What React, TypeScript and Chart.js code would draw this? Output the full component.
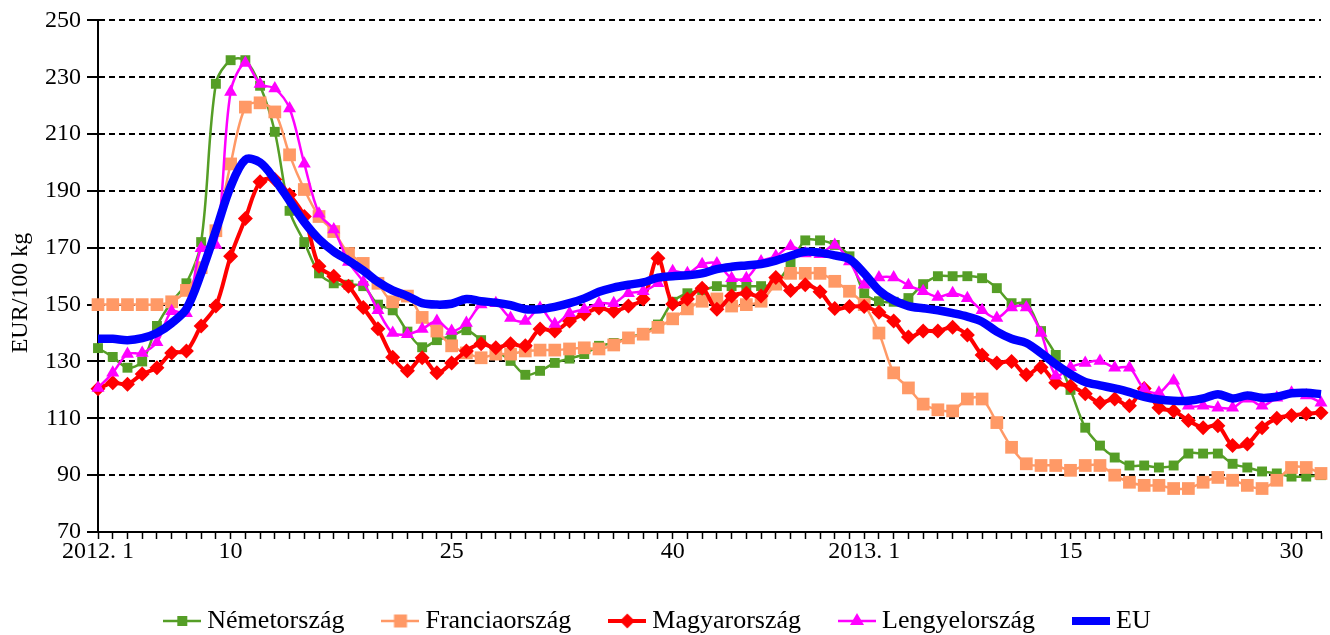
import React, { useEffect, useRef } from "react";
import { Chart, registerables } from "chart.js";

Chart.register(...registerables);

const categories = [
  "2012. 1", "2012. 2", "2012. 3", "2012. 4", "2012. 5", "2012. 6", "2012. 7", "2012. 8", "2012. 9", "2012. 10",
  "2012. 11", "2012. 12", "2012. 13", "2012. 14", "2012. 15", "2012. 16", "2012. 17", "2012. 18", "2012. 19", "2012. 20",
  "2012. 21", "2012. 22", "2012. 23", "2012. 24", "2012. 25", "2012. 26", "2012. 27", "2012. 28", "2012. 29", "2012. 30",
  "2012. 31", "2012. 32", "2012. 33", "2012. 34", "2012. 35", "2012. 36", "2012. 37", "2012. 38", "2012. 39", "2012. 40",
  "2012. 41", "2012. 42", "2012. 43", "2012. 44", "2012. 45", "2012. 46", "2012. 47", "2012. 48", "2012. 49", "2012. 50",
  "2012. 51", "2012. 52",
  "2013. 1", "2013. 2", "2013. 3", "2013. 4", "2013. 5", "2013. 6", "2013. 7", "2013. 8", "2013. 9", "2013. 10",
  "2013. 11", "2013. 12", "2013. 13", "2013. 14", "2013. 15", "2013. 16", "2013. 17", "2013. 18", "2013. 19", "2013. 20",
  "2013. 21", "2013. 22", "2013. 23", "2013. 24", "2013. 25", "2013. 26", "2013. 27", "2013. 28", "2013. 29", "2013. 30",
  "2013. 31", "2013. 32",
];

const xTickText: Record<string, string> = {
  "2012. 1": "2012. 1",
  "2012. 10": "10",
  "2012. 25": "25",
  "2012. 40": "40",
  "2013. 1": "2013. 1",
  "2013. 15": "15",
  "2013. 30": "30",
};

const yMin = 70;
const yMax = 250;
const yStep = 20;
const yTitle = "EUR/100 kg";

const seriesNames = ["Németország", "Franciaország", "Magyarország", "Lengyelország", "EU"];

const nemetorszag = [
  134.7, 131.6, 127.8, 130, 142.5, 151, 157.5, 172, 227.7, 236,
  236, 227, 210.8, 183, 172, 161, 157.5, 157, 156.5, 150,
  148, 140.5, 135, 137.5, 139, 141, 137.5, 134, 130.2, 125.3,
  126.7, 129.5, 131, 132.6, 135.5, 136.5, 138.4, 140, 143, 151,
  154, 155, 156.5, 156.5, 156.5, 156.5, 157.5, 164.5, 172.6, 172.6,
  171, 167,
  154, 151.2, 151, 152.3, 157.2, 160, 160, 160, 159.3, 155.8,
  150.5, 150.5, 140.7, 132.3, 120, 106.7, 100.4, 96.2, 93.4, 93.4,
  92.7, 93.4, 97.6, 97.6, 97.6, 94, 92.7, 91.3, 90.6, 89.5,
  89.5, 90,
];

const franciaorszag = [
  150, 150, 150, 150, 150, 151, 155, 163, 176, 199.5,
  219.5, 221, 217.8, 202.7, 190.5, 181, 175.7, 168, 164.5, 157.5,
  151, 153, 145.5, 140.7, 135.5, 133, 131.3, 132.6, 132.6, 133.7,
  134, 134, 134.4, 134.8, 134.4, 135.8, 138.3, 139.6, 142, 145,
  148.5, 151.2, 152, 149.5, 150, 151.2, 157.2, 161, 161, 161,
  158.2, 154.7,
  150, 140, 126, 120.7, 115, 113, 112.6, 116.8, 116.8, 108.5,
  99.8, 94, 93.4, 93.4, 91.7, 93.4, 93.4, 90, 87.5, 86.4,
  86.4, 85.3, 85.3, 87.5, 89.2, 88.2, 86.4, 85.3, 88.2, 92.7,
  92.7, 90.6,
];

const magyarorszag = [
  120.4, 122.5, 122, 125.6, 127.8, 133, 133.7, 142.5, 149.5, 167,
  180.3, 193.2, 194, 188.7, 181, 163.5, 160, 156.5, 149, 141.5,
  131.5, 126.7, 131.3, 126, 129.5, 133.7, 136.2, 134.8, 136.2, 135.5,
  141.4, 140.7, 144.2, 146.7, 148.8, 147.7, 149.5, 152, 166.3, 150.2,
  152, 155.8, 148.4, 153, 154, 153, 159.5, 155, 157, 154.5,
  148.6, 149.3,
  149.3, 147.3, 144.2, 138.6, 140.7, 140.7, 142, 139.3, 132.3, 129.5,
  130, 125.3, 128, 122.5, 121.4, 118.6, 115.5, 116.8, 114.4, 120.5,
  113.7, 112.6, 109.2, 106.7, 107.4, 100.4, 101, 106.7, 110, 111,
  111.6, 112,
];

const lengyelorszag = [
  120.7, 126, 132.6, 133, 136.8, 147.7, 147, 169.8, 171, 224.8,
  235, 227.6, 226, 219, 199.6, 182, 176.4, 165, 158, 148,
  140, 139.6, 141.4, 144.2, 140.7, 143.5, 150, 150.5, 145.3, 144.2,
  148.8, 143.2, 147, 148.4, 150.5, 150.5, 154, 154.7, 157.5, 161.7,
  161, 164.2, 164.5, 159.3, 159.3, 165.2, 167, 170.5, 168, 167.7,
  171, 165.2,
  157, 159.5, 159.5, 156.8, 154.7, 152.7, 154, 152.2, 148, 145.3,
  149, 149, 140, 125, 128, 129.5, 130.2, 127.8, 127.8, 120.4,
  119, 123.2, 114.4, 114.4, 113.7, 113.7, 116.9, 114.4, 117.2, 119,
  118, 115.5,
];

const eu = [
  138, 138, 137.5, 138.2, 140, 143.5, 148.5, 161, 176, 191.5,
  201, 200, 194, 186.5, 179, 173, 168.7, 165.5, 162, 158,
  155, 153, 150.5, 150, 150.3, 152, 151.2, 150.7, 149.8, 148.4,
  148.4, 149.2, 150.5, 152.2, 154.5, 156, 157, 157.8, 159.5, 160,
  160.3, 161, 162.5, 163.3, 163.8, 164.3, 165.5, 167.2, 168.6, 168.3,
  167.3, 166,
  161, 155, 151.5, 149.5, 148.7, 148, 147, 145.8, 144, 140.5,
  138, 136.5, 133, 129, 125.5, 122.8, 121.6, 120.5, 119.2, 117.5,
  116.6, 116.2, 116.2, 117, 118.5, 117, 118, 117.2, 117.6, 118.8,
  119, 118.5,
];

const GREEN = "#559E26";
const ORANGE = "#FF9966";
const RED = "#FF0000";
const MAGENTA = "#FF00FF";
const BLUE = "#0000FF";
const FONT = "'Liberation Serif', 'Times New Roman', serif";

function makeIcon(color: string, lineWidth: number, marker: string, size: number) {
  const c = document.createElement("canvas");
  c.width = 38;
  c.height = 22;
  const ctx = c.getContext("2d")!;
  const cx = 19;
  const cy = 11;
  ctx.strokeStyle = color;
  ctx.lineWidth = lineWidth;
  ctx.beginPath();
  ctx.moveTo(0, cy);
  ctx.lineTo(38, cy);
  ctx.stroke();
  ctx.fillStyle = color;
  if (marker === "rect") {
    ctx.fillRect(cx - size / 2, cy - size / 2, size, size);
  } else if (marker === "rectRot") {
    ctx.beginPath();
    ctx.moveTo(cx, cy - size / 2);
    ctx.lineTo(cx + size / 2, cy);
    ctx.lineTo(cx, cy + size / 2);
    ctx.lineTo(cx - size / 2, cy);
    ctx.closePath();
    ctx.fill();
  } else if (marker === "triangle") {
    const h = size * 0.87;
    ctx.beginPath();
    ctx.moveTo(cx, cy - (h * 2) / 3);
    ctx.lineTo(cx + size / 2, cy + h / 3);
    ctx.lineTo(cx - size / 2, cy + h / 3);
    ctx.closePath();
    ctx.fill();
  }
  return c;
}

const yTitlePlugin = {
  id: "yTitleText",
  afterDraw(chart: any) {
    const ctx = chart.ctx as CanvasRenderingContext2D;
    ctx.save();
    ctx.translate(21, 293);
    ctx.rotate(-Math.PI / 2);
    ctx.font = `24px ${FONT}`;
    ctx.fillStyle = "#000";
    ctx.textAlign = "center";
    ctx.textBaseline = "middle";
    ctx.fillText(yTitle, 0, 0);
    ctx.restore();
  },
};

export default function App() {
  const ref = useRef<HTMLCanvasElement>(null);

  useEffect(() => {
    const canvas = ref.current;
    if (!canvas) return;
    const icons = [
      makeIcon(GREEN, 2.5, "rect", 10),
      makeIcon(ORANGE, 2.5, "rect", 13),
      makeIcon(RED, 4, "rectRot", 15),
      makeIcon(MAGENTA, 2.5, "triangle", 14),
      makeIcon(BLUE, 8, "none", 0),
    ];
    const common = { fill: false, clip: false as any, tension: 0.33, pointBorderWidth: 0 };
    const chart = new Chart(canvas, {
      type: "line",
      data: {
        labels: categories,
        datasets: [
          {
            ...common,
            label: seriesNames[0],
            data: nemetorszag,
            borderColor: GREEN,
            backgroundColor: GREEN,
            pointBackgroundColor: GREEN,
            pointBorderColor: GREEN,
            borderWidth: 2.5,
            pointStyle: "rect",
            pointRadius: 7,
            order: 4,
          },
          {
            ...common,
            label: seriesNames[1],
            data: franciaorszag,
            borderColor: ORANGE,
            backgroundColor: ORANGE,
            pointBackgroundColor: ORANGE,
            pointBorderColor: ORANGE,
            borderWidth: 2.5,
            pointStyle: "rect",
            pointRadius: 9,
            order: 3,
          },
          {
            ...common,
            label: seriesNames[2],
            data: magyarorszag,
            borderColor: RED,
            backgroundColor: RED,
            pointBackgroundColor: RED,
            pointBorderColor: RED,
            borderWidth: 4,
            pointStyle: "rectRot",
            pointRadius: 7.5,
            order: 2,
          },
          {
            ...common,
            label: seriesNames[3],
            data: lengyelorszag,
            borderColor: MAGENTA,
            backgroundColor: MAGENTA,
            pointBackgroundColor: MAGENTA,
            pointBorderColor: MAGENTA,
            borderWidth: 2.5,
            pointStyle: "triangle",
            pointRadius: 7.5,
            order: 1,
          },
          {
            ...common,
            label: seriesNames[4],
            data: eu,
            borderColor: BLUE,
            backgroundColor: BLUE,
            borderWidth: 8.5,
            pointRadius: 0,
            order: 0,
          },
        ],
      },
      options: {
        responsive: false,
        animation: false,
        devicePixelRatio: 1,
        events: [],
        layout: { padding: { top: 18, right: 9, bottom: -9, left: 0 } },
        scales: {
          x: {
            type: "category",
            offset: false,
            afterFit: (scale: any) => {
              scale.height = 32;
            },
            grid: {
              offset: false,
              drawOnChartArea: false,
              drawTicks: true,
              tickLength: 7,
              tickColor: "#000",
              tickWidth: 1.5,
            },
            border: { display: true, color: "#000", width: 2 },
            ticks: {
              autoSkip: false,
              maxRotation: 0,
              minRotation: 0,
              padding: 1,
              color: "#000",
              font: { family: FONT, size: 24, lineHeight: 1 },
              callback: function (_v: any, idx: number) {
                const key = categories[idx];
                return xTickText[key] ?? "";
              },
            },
          },
          y: {
            min: yMin,
            max: yMax,
            afterFit: (scale: any) => {
              scale.width = 98;
            },
            ticks: {
              stepSize: yStep,
              padding: 6,
              color: "#000",
              font: { family: FONT, size: 24 },
            },
            grid: {
              color: "#000",
              lineWidth: 2,
              drawTicks: true,
              tickLength: 11,
              tickColor: "#000",
              tickWidth: 2,
              tickBorderDash: [],
            },
            border: { display: true, color: "#000", width: 2, dash: [6, 4] },
            title: { display: false },
          },
        },
        plugins: {
          tooltip: { enabled: false },
          legend: {
            position: "bottom",
            align: "center",
            labels: {
              usePointStyle: true,
              pointStyleWidth: 24,
              padding: 44,
              color: "#000",
              font: { family: FONT, size: 26 },
              sort: (a: any, b: any) => a.datasetIndex - b.datasetIndex,
              generateLabels: (ch: any) => {
                const items = (Chart.defaults.plugins.legend.labels as any).generateLabels(ch);
                items.forEach((it: any) => {
                  it.pointStyle = icons[it.datasetIndex];
                  it.fontColor = "#000";
                });
                return items;
              },
            },
          },
        },
      } as any,
      plugins: [yTitlePlugin],
    });
    return () => chart.destroy();
  }, []);

  return (
    <div style={{ position: "fixed", left: 0, top: 0, width: 1330, height: 635, background: "#fff" }}>
      <canvas ref={ref} width={1330} height={635} style={{ display: "block", width: 1330, height: 635 }} />
    </div>
  );
}
